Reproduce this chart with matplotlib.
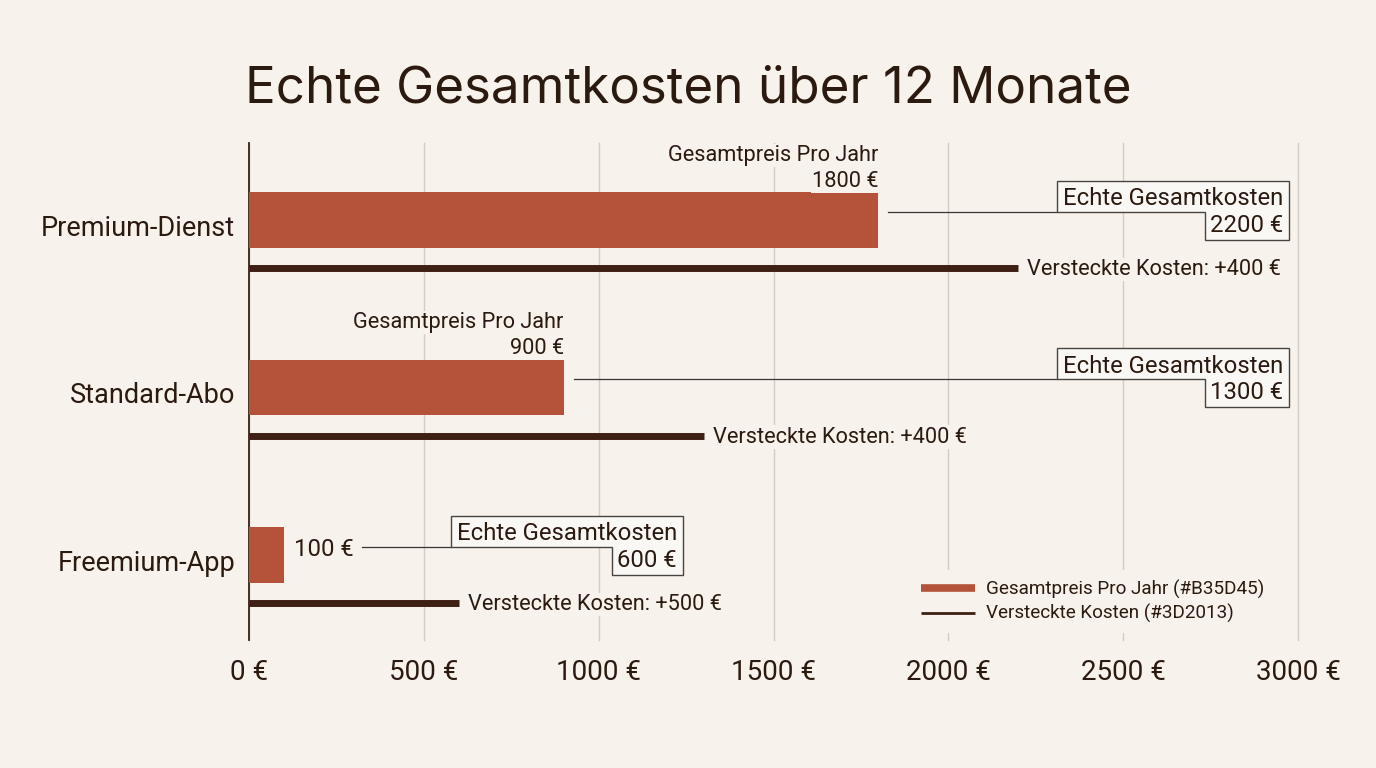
import numpy as np
import matplotlib
matplotlib.use("Agg")
import matplotlib.pyplot as plt
from matplotlib.lines import Line2D
from matplotlib.patches import Polygon
from matplotlib.transforms import IdentityTransform

# ---------------- data ----------------
categories = ["Premium-Dienst", "Standard-Abo", "Freemium-App"]
price_per_year = [1800, 900, 100]
hidden_costs = [400, 400, 500]
total_costs = [2200, 1300, 600]
x_ticks = [0, 500, 1000, 1500, 2000, 2500, 3000]
x_tick_labels = [f"{v} €" for v in x_ticks]
title = "Echte Gesamtkosten über 12 Monate"
price_label = "Gesamtpreis Pro Jahr"
total_label = "Echte Gesamtkosten"
hidden_label = "Versteckte Kosten"
legend_labels = ["Gesamtpreis Pro Jahr (#B35D45)", "Versteckte Kosten (#3D2013)"]

# ---------------- style ----------------
BG = "#F7F3EC"
BOXBG = "#FAF8F4"
BAR = "#B5533A"
DARK = "#3D2013"
TXT = "#2B1A10"
GRID = "#D2CDC6"
BOX_RIGHT = [2975, 2975, 1241]   # layout: right edge of the total-cost boxes

plt.rcParams["font.family"] = ["Roboto", "DejaVu Sans"]

W, H = 1376, 768
fig = plt.figure(figsize=(W / 100, H / 100), dpi=100, facecolor=BG)
ax = fig.add_axes([249 / W, 1 - 640 / H, (1298 - 249) / W, (640 - 143) / H])
ax.set_facecolor(BG)

idx = np.arange(len(categories))
bar_h = 0.33
line_off = 0.287
conn_off = -0.048

ax.barh(idx, price_per_year, height=bar_h, color=BAR, zorder=3)
for i, t in enumerate(total_costs):
    ax.plot([0, t], [i + line_off] * 2, color=DARK, lw=5.0,
            solid_capstyle="butt", zorder=3)

ax.set_xlim(0, 3000)
ax.set_ylim(2 + 85 / 167.5, -77 / 167.5)
ax.set_xticks(x_ticks)
ax.set_xticklabels(x_tick_labels, fontsize=20, color=TXT)
ax.set_yticks(idx + 0.03)
ax.set_yticklabels(categories, fontsize=19.5, color=TXT)
ax.tick_params(axis="x", length=0, pad=14)
ax.tick_params(axis="y", length=0, pad=10)
ax.grid(axis="x", color=GRID, lw=1.0, zorder=0)
ax.set_axisbelow(True)
for gl in ax.get_xgridlines():
    gl.set_clip_on(False)
for s in ["top", "right", "bottom"]:
    ax.spines[s].set_visible(False)
ax.spines["left"].set_color(DARK)
ax.spines["left"].set_linewidth(1.3)

fig.text(0.5, 1 - 89 / H, title, ha="center", va="center",
         fontsize=36.8, color=TXT, family=["Inter", "DejaVu Sans"])

FS = 15.7
FSB = 17.2
bgbox = dict(boxstyle="square,pad=0.05", fc=BG, ec="none")

value_texts = []
for i, p in enumerate(price_per_year):
    y_top = i - bar_h / 2
    if p >= 300:
        ax.annotate(f"{p} €", xy=(p, y_top), xytext=(0, 5.5),
                    textcoords="offset pixels", ha="right", va="baseline",
                    fontsize=FS, color=TXT, zorder=6, bbox=bgbox)
        ax.annotate(price_label, xy=(p, y_top), xytext=(0, 31.5),
                    textcoords="offset pixels", ha="right", va="baseline",
                    fontsize=FS, color=TXT, zorder=6, bbox=bgbox)
        value_texts.append(None)
    else:
        t = ax.annotate(f"{p} €", xy=(p, i), xytext=(10, -1),
                        textcoords="offset pixels", ha="left", va="baseline",
                        fontsize=FSB, color=TXT, zorder=6)
        value_texts.append(t)

    # hidden costs label
    ax.annotate(f"{hidden_label}: +{hidden_costs[i]} €",
                xy=(total_costs[i], i + line_off), xytext=(9, -7),
                textcoords="offset pixels", ha="left", va="baseline",
                fontsize=FS, color=TXT, zorder=6, bbox=bgbox)

# total cost boxes
box_texts = []
for i, tot in enumerate(total_costs):
    yj = i + conn_off
    t1 = ax.annotate(total_label, xy=(BOX_RIGHT[i], yj), xytext=(-6, 6.5),
                     textcoords="offset pixels", ha="right", va="baseline",
                     fontsize=FSB, color=TXT, zorder=7)
    t2 = ax.annotate(f"{tot} €", xy=(BOX_RIGHT[i], yj), xytext=(-6, -20),
                     textcoords="offset pixels", ha="right", va="baseline",
                     fontsize=FSB, color=TXT, zorder=7)
    box_texts.append((t1, t2))

# legend
handles = [Line2D([0], [0], color=BAR, lw=5.5, solid_capstyle="butt"),
           Line2D([0], [0], color=DARK, lw=2.0, solid_capstyle="butt")]
leg = ax.legend(handles, legend_labels, loc="upper left",
                bbox_to_anchor=(912 / W, 1 - 570 / H),
                bbox_transform=fig.transFigure, frameon=True,
                fontsize=13.6, handlelength=2.85, handletextpad=0.55,
                labelspacing=0.3, borderpad=0.5, borderaxespad=0)
leg.get_frame().set_facecolor(BG)
leg.get_frame().set_edgecolor("none")
leg.get_frame().set_alpha(1)
for tx in leg.get_texts():
    tx.set_color(TXT)
leg.set_zorder(8)

fig.canvas.draw()
r = fig.canvas.get_renderer()
for i, (t1, t2) in enumerate(box_texts):
    yj = i + conn_off
    yj_d = ax.transData.transform((0, yj))[1]
    e1 = t1.get_window_extent(r)
    e2 = t2.get_window_extent(r)
    xr = ax.transData.transform((BOX_RIGHT[i], 0))[0]
    L1 = e1.x0 - 6
    L2 = e2.x0 - 5
    top = yj_d + 31
    bot = yj_d - 28
    poly = Polygon([(L1, top), (xr, top), (xr, bot), (L2, bot), (L2, yj_d), (L1, yj_d)],
                   closed=True, fc=BOXBG, ec="#4A4440", lw=1.0,
                   transform=IdentityTransform(), zorder=5)
    poly.set_clip_on(False)
    ax.add_artist(poly)
    # connector
    if value_texts[i] is not None:
        x0 = value_texts[i].get_window_extent(r).x1 + 8
    else:
        x0 = ax.transData.transform((price_per_year[i], 0))[0] + 10
    ln = Line2D([x0, L1], [yj_d, yj_d], color="#3A3430", lw=0.9,
                transform=IdentityTransform(), zorder=4)
    ln.set_clip_on(False)
    ax.add_artist(ln)

fig.savefig("out.png", dpi=100, facecolor=BG)
